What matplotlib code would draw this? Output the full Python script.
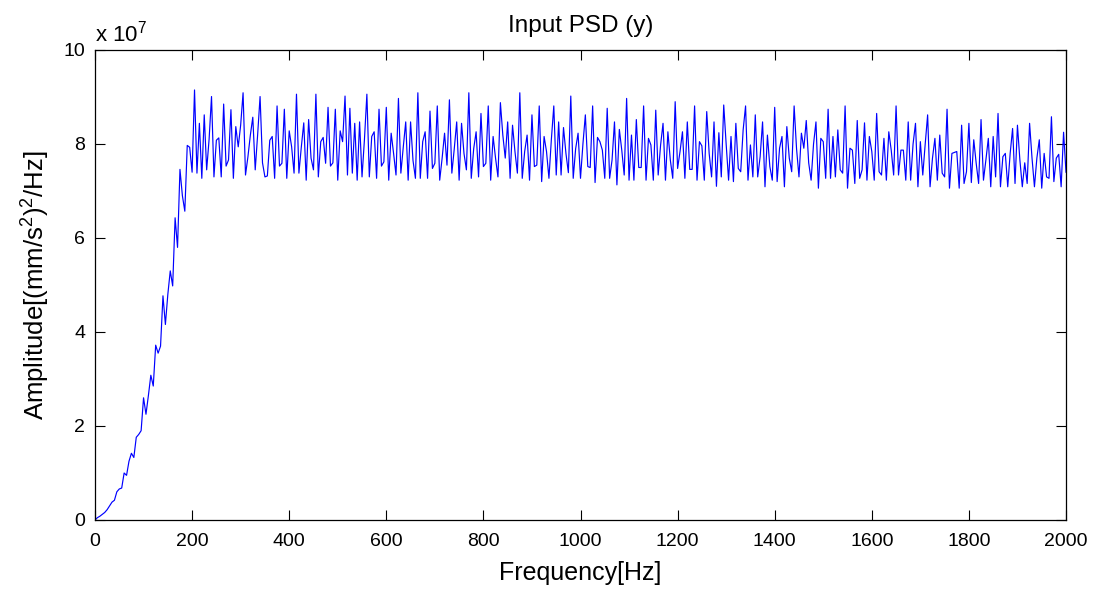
import numpy as np
import matplotlib
matplotlib.use("Agg")
import matplotlib.pyplot as plt

# Frequency axis: 5 Hz spacing from 0 to 2000 Hz
freq_step_hz = 5
freq_max_hz = 2000

# PSD amplitude in units of 1e7 (mm/s^2)^2/Hz
psd_rise = [
    0.00, 0.05, 0.08, 0.12, 0.16, 0.22, 0.30, 0.38, 0.42, 0.60,   # 0-45
    0.66, 0.68, 1.00, 0.95, 1.25, 1.42, 1.33, 1.76, 1.82, 1.90,   # 50-95
    2.60, 2.25, 2.65, 3.08, 2.85, 3.72, 3.55, 3.70, 4.77, 4.16,   # 100-145
    4.80, 5.30, 4.98, 6.43, 5.80, 7.46, 6.90, 6.57, 7.97, 7.93,   # 150-195
    7.40, 9.15,                                                  # 200-205
]
psd_210_355 = [
    7.38, 8.44, 7.27, 8.62, 7.45, 8.10, 9.01, 7.30, 8.08, 8.13,
    7.30, 8.85, 7.53, 7.66, 8.73, 7.27, 8.37, 7.94, 8.40, 9.09,
    7.34, 7.73, 8.19, 8.57, 7.45, 8.20, 9.01, 7.60, 7.30, 7.32,
]
psd_360_520 = [
    8.08, 8.16, 7.27, 8.81, 7.53, 7.59, 8.74, 7.27, 8.28, 7.94,
    7.38, 9.06, 7.38, 7.94, 8.45, 7.23, 8.52, 7.70, 7.45, 9.06,
    7.30, 8.05, 8.14, 7.59, 8.78, 7.53, 7.60, 8.74, 7.23, 8.28,
    8.05, 9.02, 7.34,
]
psd_525_690 = [
    8.76, 7.38, 8.44, 7.23, 8.47, 7.30, 8.10, 9.06, 7.30, 8.16,
    8.26, 7.27, 8.74, 7.53, 7.62, 8.78, 7.23, 8.23, 7.80, 7.34,
    8.97, 7.38, 7.94, 8.47, 7.23, 8.47, 7.65, 7.27, 9.09, 7.27,
    8.05, 8.26, 7.27, 8.70,
]
psd_695_855 = [
    7.48, 7.59, 8.81, 7.23, 7.70, 8.23, 7.55, 8.94, 7.38, 7.90,
    8.47, 7.23, 8.44, 7.80, 7.45, 9.09, 7.27, 7.90, 8.26, 7.30,
    8.65, 7.52, 7.59, 8.81, 7.23, 8.16, 7.70, 7.30, 8.88, 8.19,
    7.70, 8.47, 7.27,
]
psd_860_1020 = [
    8.40, 7.84, 7.38, 9.09, 7.27, 7.84, 8.19, 7.23, 8.62, 7.52,
    7.55, 8.81, 7.20, 8.16, 7.84, 7.27, 8.10, 8.81, 7.34, 8.47,
    7.34, 8.35, 7.80, 7.39, 9.02, 7.27, 7.90, 8.23, 7.27, 8.00,
    8.62, 7.52, 7.50,
]
psd_1025_1185 = [
    8.81, 7.18, 8.14, 8.05, 7.87, 7.27, 8.76, 7.27, 7.66, 8.47,
    7.13, 8.31, 7.87, 7.34, 8.97, 7.23, 8.19, 7.23, 8.52, 7.50,
    7.50, 8.81, 7.23, 8.12, 7.98, 7.23, 8.72, 7.34, 7.98, 8.44,
    7.23, 8.26, 7.66,
]
psd_1190_1350 = [
    7.27, 8.90, 7.48, 7.84, 8.26, 7.27, 8.47, 7.46, 7.46, 8.81,
    7.23, 8.05, 7.96, 7.23, 8.69, 7.80, 7.30, 8.47, 7.10, 8.24,
    7.30, 8.83, 8.00, 7.23, 8.16, 7.20, 8.44, 7.48, 7.41, 8.30,
    8.81, 7.23, 7.98,
]
psd_1355_1515 = [
    7.30, 8.62, 7.30, 7.73, 8.47, 7.09, 8.19, 7.52, 7.23, 8.78,
    7.20, 7.91, 8.16, 7.09, 8.37, 7.70, 7.41, 8.81, 7.90, 7.30,
    8.23, 7.91, 8.50, 7.60, 7.23, 8.00, 8.47, 7.06, 8.12, 8.05,
    7.27, 8.74, 7.27,
]
psd_1520_1675 = [
    8.16, 7.30, 8.30, 7.45, 7.38, 8.81, 7.06, 7.91, 7.87, 7.16,
    8.50, 7.27, 7.45, 8.45, 7.23, 8.16, 7.84, 7.23, 8.65, 7.41,
    7.34, 8.12, 7.23, 8.26, 7.87, 7.34, 8.81, 7.34, 7.87, 7.87,
    7.23, 8.47,
]
psd_1680_1845 = [
    7.23, 8.00, 8.44, 7.09, 8.05, 7.34, 8.00, 8.62, 7.09, 7.70,
    8.12, 7.23, 8.19, 7.38, 7.30, 8.74, 7.06, 7.80, 7.82, 7.84,
    7.06, 8.40, 7.16, 7.41, 8.44, 7.18, 8.09, 7.59, 7.16, 8.52,
    7.23, 7.66, 8.12, 7.09,
]
psd_1850_2000 = [
    8.16, 7.30, 8.65, 7.09, 7.73, 7.80, 7.09, 7.80, 8.33, 7.16,
    8.40, 7.66, 7.09, 7.60, 7.16, 8.44, 7.70, 7.09, 7.70, 8.09,
    7.06, 7.80, 7.30, 7.27, 8.58, 7.20, 7.70, 7.78, 7.09, 8.25,
    7.40,
]

psd_e7 = np.array(
    psd_rise + psd_210_355 + psd_360_520 + psd_525_690 + psd_695_855
    + psd_860_1020 + psd_1025_1185 + psd_1190_1350 + psd_1355_1515
    + psd_1520_1675 + psd_1680_1845 + psd_1850_2000
)
freq_hz = np.arange(len(psd_e7)) * freq_step_hz

x_ticks = list(range(0, 2001, 200))
y_ticks = [0, 2, 4, 6, 8, 10]

plt.rcParams["font.family"] = ["Liberation Sans", "DejaVu Sans"]
plt.rcParams["mathtext.default"] = "regular"

fig = plt.figure(figsize=(11.04, 5.97), dpi=100)
ax = fig.add_axes([95 / 1104, 1 - 520 / 597, (1066 - 95) / 1104, (520 - 50) / 597])

ax.plot(freq_hz, psd_e7, color=(0, 0, 1), linewidth=0.85)

ax.set_xlim(0, freq_max_hz)
ax.set_ylim(0, 10)
ax.set_xticks(x_ticks)
ax.set_yticks(y_ticks)
ax.set_xticklabels([str(t) for t in x_ticks])
ax.set_yticklabels([str(t) for t in y_ticks])

ax.tick_params(axis="both", which="both", direction="in", length=7, width=0.8,
               top=True, right=True, labelsize=14, colors="black")
ax.tick_params(axis="x", pad=9)
ax.tick_params(axis="y", pad=7)
for sp in ax.spines.values():
    sp.set_linewidth(0.9)
    sp.set_color("black")

ax.set_xlabel("Frequency[Hz]", fontsize=18, labelpad=8)
ax.set_ylabel("Amplitude[(mm/s$^2$)$^2$/Hz]", fontsize=18.5, labelpad=8)
ax.set_title("Input PSD (y)", fontsize=17.5, pad=13)

# Exponent multiplier shown above the y axis
ax.text(0.0, 1.019, "x 10$^{7}$", transform=ax.transAxes, fontsize=16,
        ha="left", va="baseline")

fig.savefig("out.png", dpi=100)
